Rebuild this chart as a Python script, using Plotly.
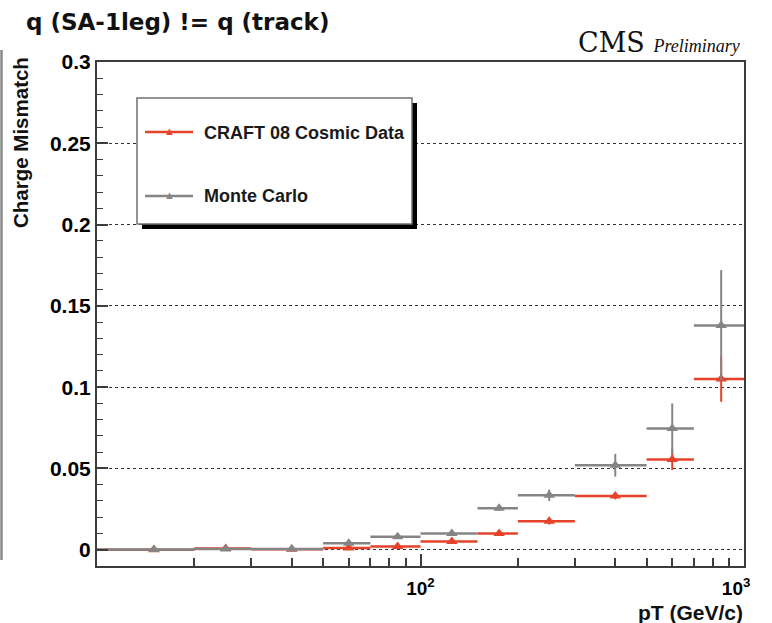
import plotly.graph_objects as go

# pT binning (GeV/c)
bin_lo = [10, 20, 30, 50, 70, 100, 150, 200, 300, 500, 700]
bin_hi = [20, 30, 50, 70, 100, 150, 200, 300, 500, 700, 1000]
bin_center = [15, 25, 40, 60, 85, 125, 175, 250, 400, 600, 850]

# charge mismatch rate, CRAFT 08 cosmic data
data_rate = [0.0, 0.0007, 0.0003, 0.001, 0.002, 0.005, 0.010, 0.0175, 0.033, 0.0555, 0.105]
data_err = [0.0005, 0.0005, 0.0005, 0.0008, 0.001, 0.0012, 0.0015, 0.002, 0.002, 0.0065, 0.014]

# charge mismatch rate, Monte Carlo
mc_rate = [0.0002, 0.0005, 0.0005, 0.004, 0.008, 0.010, 0.0255, 0.0335, 0.052, 0.0745, 0.138]
mc_err = [0.0005, 0.0005, 0.0005, 0.001, 0.0012, 0.0015, 0.0015, 0.0035, 0.007, 0.0155, 0.034]

y_ticks = [0, 0.05, 0.1, 0.15, 0.2, 0.25, 0.3]
y_tick_text = ["0", "0.05", "0.1", "0.15", "0.2", "0.25", "0.3"]
x_ticks = [100, 1000]
# the last label is nudged left so it stays inside the frame edge
x_tick_text = ["10<sup>2</sup>", "10<sup>3</sup>&nbsp;&nbsp;&nbsp;"]
x_minor = [20, 30, 40, 50, 60, 70, 80, 90, 200, 300, 400, 500, 600, 700, 800, 900]

RED = "#e6422a"
GRAY = "#858585"

x_plus = [h - c for h, c in zip(bin_hi, bin_center)]
x_minus = [c - l for l, c in zip(bin_lo, bin_center)]


def series(name, y, err, color):
    return go.Scatter(
        x=bin_center, y=y, name=name, mode="markers",
        marker=dict(symbol="triangle-up", size=10, color=color),
        error_x=dict(type="data", symmetric=False, array=x_plus, arrayminus=x_minus,
                     color=color, thickness=2.5, width=0),
        error_y=dict(type="data", array=err, color=color, thickness=2, width=0),
        showlegend=False,
    )


fig = go.Figure()
fig.add_trace(series("CRAFT 08 Cosmic Data", data_rate, data_err, RED))
fig.add_trace(series("Monte Carlo", mc_rate, mc_err, GRAY))

# plot-area geometry in pixels, for placing the decorations
L, R, T, B = 97, 744, 62, 566
W, H = R - L, B - T


def px(x):
    return (x - L) / W


def py(y):
    return (B - y) / H


axis_line = "#3c3c3c"
ytick_font = dict(family="Liberation Sans", size=21, color="black", weight="bold")
xtick_font = dict(family="Liberation Sans", size=19, color="black", weight="bold")

fig.update_layout(
    width=772, height=623,
    margin=dict(l=L, r=772 - R, t=T, b=623 - B),
    paper_bgcolor="white", plot_bgcolor="white",
    xaxis=dict(
        type="log", range=[1, 3], automargin=False,
        tickvals=x_ticks, ticktext=x_tick_text,
        ticks="inside", ticklen=12, tickwidth=1.5, tickcolor=axis_line,
        ticklabelstandoff=4,
        minor=dict(tickvals=x_minor, ticks="inside", ticklen=8, tickwidth=1.5,
                   tickcolor=axis_line, showgrid=False),
        showgrid=False, zeroline=False,
        showline=True, linecolor=axis_line, linewidth=2, mirror=True,
        tickfont=xtick_font,
    ),
    yaxis=dict(
        range=[-0.01, 0.3], automargin=False,
        tickvals=y_ticks, ticktext=y_tick_text,
        ticks="inside", ticklen=11, tickwidth=1.5, tickcolor=axis_line,
        minor=dict(dtick=0.01, ticks="inside", ticklen=6, tickwidth=1.2,
                   tickcolor=axis_line, showgrid=False),
        showgrid=True, gridcolor="#333333", gridwidth=1, griddash="dot",
        zeroline=False,
        showline=True, linecolor=axis_line, linewidth=2, mirror=True,
        tickfont=ytick_font,
    ),
)

shapes = [
    # frame strip at the far left edge
    dict(type="line", xref="paper", yref="paper", x0=px(1.5), x1=px(1.5),
         y0=py(50), y1=py(560), line=dict(color="#8a8a8a", width=2.5)),
    # legend shadow and box
    dict(type="rect", xref="paper", yref="paper", x0=px(142), x1=px(417),
         y0=py(103), y1=py(229), fillcolor="black", line=dict(width=0)),
    dict(type="rect", xref="paper", yref="paper", x0=px(137), x1=px(412),
         y0=py(98), y1=py(224), fillcolor="white", line=dict(color="#707070", width=1.5)),
    # legend sample lines
    dict(type="line", xref="paper", yref="paper", x0=px(145), x1=px(193),
         y0=py(132), y1=py(132), line=dict(color=RED, width=2.5)),
    dict(type="line", xref="paper", yref="paper", x0=px(145), x1=px(193),
         y0=py(196), y1=py(196), line=dict(color=GRAY, width=2.5)),
]
fig.update_layout(shapes=shapes)

legend_font = dict(family="Liberation Sans", size=18, color="#1a1a1a", weight="bold")
annotations = [
    dict(text="▲", x=px(169), y=py(131), xref="paper", yref="paper", showarrow=False,
         font=dict(size=11, color=RED), xanchor="center", yanchor="middle"),
    dict(text="▲", x=px(169), y=py(195), xref="paper", yref="paper", showarrow=False,
         font=dict(size=11, color=GRAY), xanchor="center", yanchor="middle"),
    dict(text="CRAFT 08 Cosmic Data", x=px(202), y=py(133), xref="paper", yref="paper",
         showarrow=False, font=legend_font, xanchor="left", yanchor="middle"),
    dict(text="Monte Carlo", x=px(202), y=py(196), xref="paper", yref="paper",
         showarrow=False, font=legend_font, xanchor="left", yanchor="middle"),
    # title
    dict(text="q (SA-1leg) != q (track)", x=px(24), y=py(22), xref="paper", yref="paper",
         showarrow=False, xanchor="left", yanchor="middle",
         font=dict(family="DejaVu Sans", size=23, color="#111111", weight="bold")),
    # CMS label
    dict(text="CMS <i><span style='font-family:Liberation Serif;font-size:18px'>Preliminary</span></i>",
         x=px(742), y=py(43), xref="paper", yref="paper", showarrow=False,
         xanchor="right", yanchor="middle",
         font=dict(family="DejaVu Serif", size=27, color="#111111")),
    # axis titles
    dict(text="Charge Mismatch", x=px(20), y=py(143), xref="paper", yref="paper",
         showarrow=False, textangle=-90, xanchor="center", yanchor="middle",
         font=dict(family="Liberation Sans", size=20.5, color="#111111", weight="bold")),
    dict(text="pT (GeV/c)", x=px(745), y=py(612), xref="paper", yref="paper",
         showarrow=False, xanchor="right", yanchor="middle",
         font=dict(family="Liberation Sans", size=21, color="#111111", weight="bold")),
]
fig.update_layout(annotations=annotations)

fig.write_html("out.html")
